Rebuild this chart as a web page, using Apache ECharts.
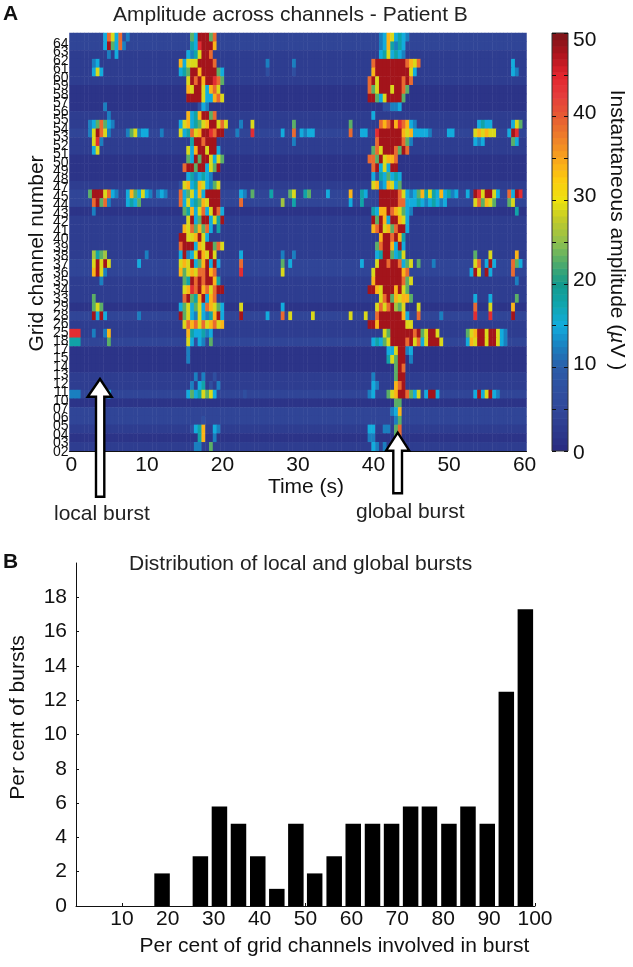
<!DOCTYPE html>
<html>
<head>
<meta charset="utf-8">
<style>html,body{margin:0;padding:0;background:#fff}#chart{width:633px;height:967px}</style>
<script src="https://cdn.jsdelivr.net/npm/echarts@6/dist/echarts.min.js"></script>
</head>
<body>
<div id="chart"></div>
<script>
const channelLabels = ["64","63","62","61","60","59","58","57","56","55","54","53","52","51","50","49","48","47","45","44","43","42","41","40","39","38","37","36","35","34","33","29","28","26","25","18","17","15","14","13","12","11","10","07","06","05","04","03","02"];
const levelValues = {a:1.5,b:3,c:4.5,d:7,e:12.5,f:15,g:18,h:23,i:26,j:29,k:34,l:39,m:44,n:48};
const rowBackground = "ccbbbbaaabbcbbaaabccabbbbbccbbbacbbcaaabbcaccbab";
const rowBursts = [
 [[4.5,"fljfl"],[7,"de"],[16,"hfnnnhl"],[41,"efkjfgfe"]],
 [[4.5,"fnhfl"],[7,"e"],[16,"gfmnnnk"],[41,"efkgegf"]],
 [[5,"e"],[6,"f"],[15.5,"fegjnnl"],[41,"fgjfgfe"]],
 [[3,"ef"],[14.5,"kfjjjnnnnl"],[26,"e"],[29.5,"e"],[40,"lnnnnnnnnlkjl"],[58.5,"f"]],
 [[3,"fjf"],[14.5,"fghnnknnnnhf"],[26,"d"],[29.5,"d"],[40,"knnnnnnnnnjf"],[58.5,"fe"]],
 [[15.5,"jnlnknnmlh"],[39.5,"lnjnnnnnnlnl"]],
 [[15.5,"kjnnjfklj"],[39.5,"lhjnnnjnnlh"]],
 [[15.5,"nnnnjffklj"],[39.5,"nnhfjnnnnh"]],
 [[4.5,"e"],[17,"dfe"],[41.5,"ddeef"]],
 [[5,"e"],[15.5,"kfgknnhl"],[40,"f"]],
 [[2.5,"efhlhfe"],[14.5,"fjkfghjknnjlj"],[22.5,"e"],[24,"j"],[29.5,"h"],[37,"h"],[41,"lklnkmlkfe"],[54,"fgff"],[58.5,"fjh"]],
 [[2.5,"ejnlje"],[7.5,"ehjef"],[10,"f"],[12,"e"],[14.5,"jfgljknnmlnn"],[22,"e"],[24,"m"],[28,"f"],[29.5,"l"],[30.5,"fe"],[31.5,"ff"],[37,"l"],[38.5,"ff"],[40.5,"mnnnnnnkjkf"],[46,"fffe"],[50,"ff"],[53.5,"jkjkjj"],[58,"fnm"]],
 [[3,"jml"],[4,"e"],[16,"gnnlnnn"],[29.5,"e"],[40.5,"lnnnnnnlhe"],[53.5,"fef"],[58.5,"hf"]],
 [[3,"fj"],[15.5,"jfknnjnnf"],[40,"hljnnnlhnl"]],
 [[15.5,"hfnhnnjfjh"],[39.5,"llhnjkkl"]],
 [[15,"lnnhnnfjhn"],[40,"lnfjfnn"]],
 [[15.5,"fgefgfe"],[40,"fdgfhfgf"]],
 [[14.5,"djkfgkjfehj"],[40,"jkefkjfh"]],
 [[2.5,"hnnnjlfe"],[7.5,"fkhfjfe"],[11.5,"efe"],[14.5,"lfhjfkfnnnn"],[22.5,"fe"],[24,"h"],[26.5,"g"],[29,"hj"],[31,"gh"],[34,"f"],[37,"k"],[38.5,"gf"],[41,"nnnnnl"],[44,"jfefhkgjgfkfgef"],[52.5,"f"],[53.5,"nmjnnjf"],[58,"lfnm"]],
 [[3,"lnhle"],[7.5,"fgfh"],[14.5,"lfjfghkjnnn"],[22.5,"l"],[28,"i"],[29.5,"g"],[37,"f"],[38.5,"g"],[41,"nnnnnl"],[44,"lfffgfefgfef"],[53.5,"jlhkjh"],[58,"hj"]],
 [[3,"e"],[15,"hgkfjlfjnlf"],[40,"gfkknlkjhfe"],[59,"g"]],
 [[15.5,"jnfhnnfjgn"],[40,"nhnkfnnkjf"]],
 [[15,"kjlhkhlf"],[19.5,"g"],[40,"klnjkhlnnf"]],
 [[14.5,"nnjjknjf"],[41,"knnlnkg"]],
 [[14.5,"lnnnfkjnnhlj"],[40.5,"hlnnkfnf"]],
 [[3,"ig"],[4,"hi"],[10,"e"],[14.5,"fnefjnkjnj"],[22.5,"f"],[28,"e"],[29.5,"e"],[40.5,"fgnnhfgj"],[53.5,"h"],[55.5,"j"],[59,"k"]],
 [[3,"jnjnj"],[9,"f"],[14.5,"jkjnfhknfnf"],[22.5,"l"],[28,"h"],[29,"f"],[38.5,"f"],[40.5,"jnnlnnlfhj"],[46,"h"],[48,"e"],[53.5,"jl"],[55,"fnf"],[58.5,"lhf"]],
 [[3,"knj"],[4.5,"e"],[14.5,"khjkjllnkl"],[22.5,"m"],[28,"j"],[40,"jnnnnnnnkl"],[53,"fnj"],[55,"nf"],[58.5,"l"]],
 [[4,"e"],[15,"hgnlnlnnkg"],[40,"knnnnnnnlhj"],[59,"e"]],
 [[15,"jkmlnkljlnn"],[39.5,"nnkjnnnknjh"]],
 [[3,"h"],[15,"lnhgknfkl"],[41,"jlnhkjkkh"],[53.5,"f"],[55.5,"f"],[59,"h"]],
 [[3,"hj"],[4,"h"],[14.5,"fhjfhjflkjhf"],[22.5,"j"],[28,"f"],[40.5,"jljlnihj"],[46,"j"],[53.5,"l"],[55.5,"j"],[58.5,"k"]],
 [[3,"nf"],[4,"nf"],[9,"e"],[14.5,"nhjfejfegknf"],[22.5,"n"],[26,"f"],[28,"l"],[29,"j"],[32,"j"],[37,"j"],[39,"j"],[40.5,"lnnnnnnkf"],[46,"l"],[49,"e"],[53.5,"m"],[55.5,"m"],[58.5,"n"]],
 [[15,"jlkljljkljk"],[39.5,"nnknnnnnnnjj"]],
 [[0,"mmm"],[3,"e"],[4.5,"ek"],[15.5,"kgffgef"],[41.5,"jhnnnnnnlnj"],[46.5,"hjnnj"],[52.5,"hjknnjnnjfe"]],
 [[0,"ggg"],[5,"h"],[15.5,"jfdfe"],[18.5,"h"],[40,"fgfhjnnnnlnjl"],[46.5,"fjnnnj"],[52.5,"fkjnnjnnjfe"]],
 [[15.5,"e"],[42,"ffjnnef"]],
 [[15.5,"e"],[42,"gjhnn"],[45,"e"]],
 [[43,"hnl"]],
 [[16.5,"e"],[17.5,"e"],[19,"d"],[40,"e"],[43,"hnn"]],
 [[16,"e"],[17,"fg"],[18.5,"d"],[19.5,"e"],[40,"fe"],[43,"kln"]],
 [[0,"eee"],[5,"f"],[15.5,"fhfgjhf"],[18.5,"jf"],[23,"d"],[39.5,"ef"],[42,"hjknnlhfj"],[47,"fnnf"],[53.5,"fnfjnf"],[56.5,"e"]],
 [[43,"hh"]],
 [[42.5,"efk"]],
 [[17.5,"d"],[43,"eh"]],
 [[16,"df"],[17,"gk"],[19,"fe"],[39.5,"ff"],[41.5,"ee"],[43,"hl"]],
 [[17,"gk"],[19,"e"],[39.5,"ee"],[43,"hl"]],
 [[16.5,"ee"],[18.5,"h"],[40,"fe"],[41.5,"e"],[43,"d"],[44,"d"]]
];
const amplitudeStops = ["#2a2a80","#2d3a8d","#31489a","#2f50a0","#2c5ca8","#1a7fbf","#12acdc","#10a5ae","#149a8c","#4eab6c","#8fc04e","#bdc92c","#ece20e","#fccb10","#f8a41c","#ee7f2a","#e65c33","#e53d3c","#e2232c","#ad141c","#7a1419"];

const binCentres = [18.75,27.1,31.25,35.4,39.6,43.75,47.9,52,56.25,60.4,64.6,68.75,72.9,77,81.25,85.4,89.6,93.75,97.9];
const burstPercent = [1.9,2.9,5.8,4.8,2.9,1,4.8,1.9,2.9,4.8,4.8,4.8,5.8,5.8,4.8,5.8,4.8,12.5,17.3];

const COLS = 121, FONT = '"Liberation Sans", Arial, sans-serif';
const timeCategories = [];
for (let i = 0; i < COLS; i++) timeCategories.push(String(i / 2));
const rowIds = rowBursts.map((_, i) => i);
const heatData = [];
rowBursts.forEach((segs, r) => {
  const line = new Array(COLS).fill(levelValues[rowBackground[r]]);
  segs.forEach(([t, chars]) => {
    [...chars].forEach((c, k) => { const i = t * 2 + k; if (i < COLS) line[i] = levelValues[c]; });
  });
  line.forEach((v, c) => heatData.push([c, r, v]));
});
const bandData = [];
for (let i = 0; i < 64; i++) { const lo = i * 50 / 64, hi = (i + 1) * 50 / 64; bandData.push([lo, hi, (lo + hi) / 2]); }
const BLK = '#111';
const label = (size) => ({ color: BLK, fontFamily: FONT, fontSize: size });
const cbRich = (p) => ({ ...label(21), padding: p });

const chart = echarts.init(document.getElementById('chart'), null, { renderer: 'canvas' });
const arrow = (pts) => ({ type: 'polygon', z: 100, shape: { points: pts }, style: { fill: '#fff', stroke: '#000', lineWidth: 2.4 } });
chart.setOption({
  animation: false,
  backgroundColor: '#fff',
  title: [
    { text: 'A', left: 3, top: 4, textStyle: { fontFamily: FONT, fontSize: 21, fontWeight: 'bold', color: '#111' }, padding: 0 },
    { text: 'Amplitude across channels - Patient B', left: 113, top: 5, textStyle: { fontFamily: FONT, fontSize: 21, fontWeight: 'normal', color: '#222' }, padding: 0 },
    { text: 'B', left: 3, top: 552, textStyle: { fontFamily: FONT, fontSize: 21, fontWeight: 'bold', color: '#111' }, padding: 0 },
    { text: 'Distribution of local and global bursts', left: 129, top: 554, textStyle: { fontFamily: FONT, fontSize: 21, fontWeight: 'normal', color: '#222' }, padding: 0 }
  ],
  grid: [
    { left: 69.5, top: 33, width: 457, height: 418, containLabel: false },
    { left: 69.5, top: 39.75, width: 10, height: 416.5 },
    { left: 552, top: 33, width: 16, height: 418, show: true, borderColor: '#333', borderWidth: 1, backgroundColor: 'transparent', z: 5 },
    { left: 74.5, top: 563, width: 460.5, height: 343 }
  ],
  xAxis: [
    { gridIndex: 0, type: 'category', data: timeCategories, z: 10,
      name: 'Time (s)', nameLocation: 'middle', nameGap: 17, nameTextStyle: { ...label(21), padding: [0, 0, 0, 16] },
      axisLine: { lineStyle: { color: '#111', width: 1.2 } },
      axisTick: { inside: true, length: 4, alignWithLabel: true, interval: 19, lineStyle: { color: '#111' } },
      axisLabel: { ...label(21), interval: 19, margin: 4, hideOverlap: false } },
    { gridIndex: 1, type: 'value', show: false, min: 0, max: 1 },
    { gridIndex: 2, type: 'value', show: false, min: 0, max: 1 },
    { gridIndex: 3, type: 'value', min: 0, max: 100, interval: 10,
      name: 'Per cent of grid channels involved in burst', nameLocation: 'middle', nameGap: 29.5, nameTextStyle: { ...label(21), padding: [0, 0, 0, 58] },
      splitLine: { show: false },
      axisLine: { lineStyle: { color: '#111', width: 1 } },
      axisTick: { inside: true, length: 3, lineStyle: { color: '#111' } },
      axisLabel: { ...label(21), margin: 3, formatter: v => v === 0 ? '' : String(v) } }
  ],
  yAxis: [
    { gridIndex: 0, type: 'category', data: rowIds, inverse: true, axisLine: { show: false }, axisTick: { show: false }, axisLabel: { show: false } },
    { gridIndex: 1, type: 'category', data: channelLabels, inverse: true, z: 10,
      name: 'Grid channel number', nameLocation: 'middle', nameGap: 22, nameRotate: 90, nameTextStyle: { ...label(21), padding: [0, 11, 0, 0] },
      axisLine: { show: false },
      axisTick: { inside: true, length: 3, alignWithLabel: true, interval: 0, lineStyle: { color: '#111' } },
      axisLabel: { color: '#111', fontFamily: FONT, fontSize: 14, interval: 0, margin: 1, hideOverlap: false } },
    { gridIndex: 2, type: 'value', position: 'right', min: 0, max: 50, interval: 5, z: 10,
      name: 'Instantaneous amplitude ({i|µ}V )', nameLocation: 'middle', nameGap: 38.5, nameRotate: -90,
      nameTextStyle: { ...label(21), padding: [0, 24, 0, 0], rich: { i: { ...label(21), fontStyle: 'italic' } } },
      splitLine: { show: false }, axisLine: { show: false, onZero: false },
      axisTick: { inside: true, length: 4, lineStyle: { color: '#111' } },
      axisLabel: { ...label(21), margin: 5,
        formatter: v => v % 10 !== 0 ? '' : v === 50 ? '{top|50}' : v === 0 ? '{low|0}' : '{mid|' + v + '}',
        rich: { top: cbRich([14, 0, 0, 0]), low: cbRich([4, 0, 0, 0]), mid: cbRich([0, 0, 7, 0]) } } },
    { gridIndex: 2, type: 'value', position: 'left', min: 0, max: 50, interval: 5, z: 10,
      splitLine: { show: false }, axisLine: { show: false, onZero: false },
      axisTick: { inside: true, length: 4, lineStyle: { color: '#111' } },
      axisLabel: { show: false } },
    { gridIndex: 3, type: 'value', min: 0, max: 20, interval: 2,
      name: 'Per cent of bursts', nameLocation: 'middle', nameGap: 47, nameRotate: 90, nameTextStyle: { ...label(21), padding: [0, 0, 0, 34] },
      splitLine: { show: false },
      axisLine: { lineStyle: { color: '#111', width: 1 } },
      axisTick: { inside: true, length: 3, customValues: [0,2,4,6,8,10,12,14,16,18], lineStyle: { color: '#111' } },
      axisLabel: { ...label(21), margin: 9, formatter: v => v === 20 ? '' : String(v) } }
  ],
  visualMap: [{ show: false, seriesIndex: [0, 1], dimension: 2, min: 0, max: 50, inRange: { color: amplitudeStops } }],
  series: [
    { type: 'heatmap', xAxisIndex: 0, yAxisIndex: 0, data: heatData, progressive: 0, silent: true, emphasis: { disabled: true }, itemStyle: { borderWidth: 0 } },
    { type: 'custom', xAxisIndex: 2, yAxisIndex: 2, data: bandData, encode: { y: [0, 1] }, silent: true, clip: true,
      renderItem: (p, api) => {
        const a = api.coord([0, api.value(0)]), b = api.coord([1, api.value(1)]);
        return { type: 'rect', shape: { x: a[0], y: b[1], width: b[0] - a[0], height: a[1] - b[1] + 0.6 }, style: { fill: api.visual('color') } };
      } },
    { type: 'bar', xAxisIndex: 3, yAxisIndex: 4, data: binCentres.map((c, i) => [c, burstPercent[i]]), barWidth: 15.5, itemStyle: { color: '#000' }, silent: true }
  ],
  graphic: [
    arrow([[100, 379], [111.7, 396.7], [104.3, 396.7], [104.3, 496.7], [96, 496.7], [96, 396.7], [87.7, 396.7]]),
    arrow([[397.7, 432.7], [409.3, 450.7], [402, 450.7], [402, 493.3], [393.3, 493.3], [393.3, 450.7], [386, 450.7]]),
    { type: 'text', left: 54, top: 504, style: { text: 'local burst', fontFamily: FONT, fontSize: 21, fill: '#222' } },
    { type: 'text', left: 356, top: 502, style: { text: 'global burst', fontFamily: FONT, fontSize: 21, fill: '#222' } }
  ]
});
</script>
</body>
</html>
